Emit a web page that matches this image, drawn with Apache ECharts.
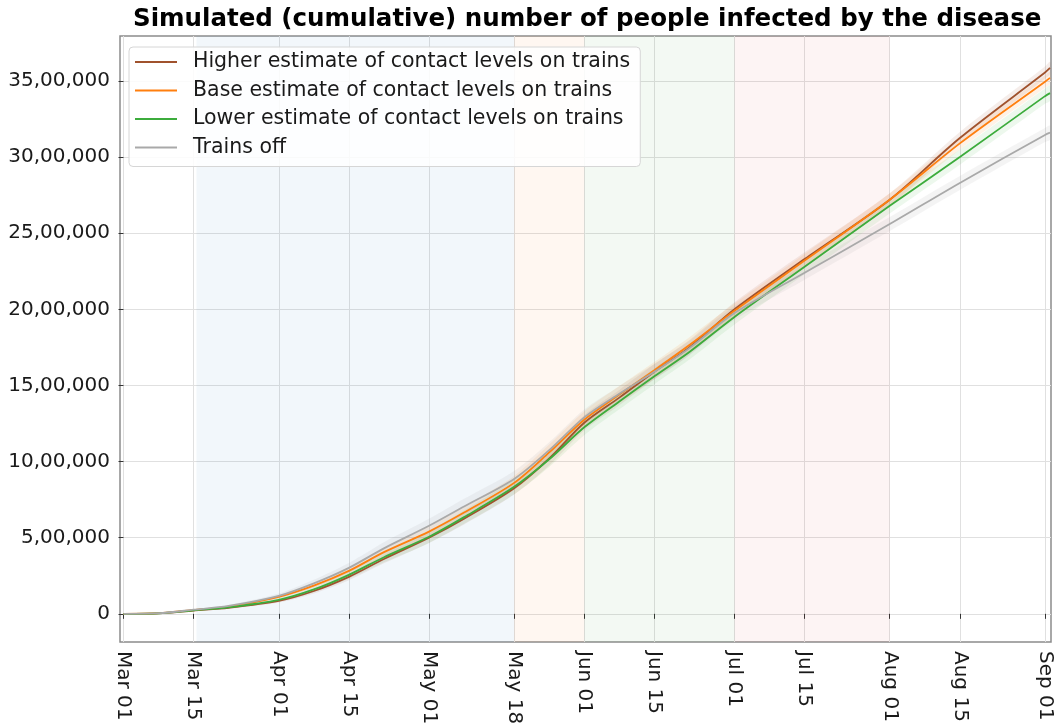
<!DOCTYPE html>
<html>
<head>
<meta charset="utf-8">
<title>Simulated infections</title>
<script src="https://cdn.jsdelivr.net/npm/echarts@6/dist/echarts.min.js"></script>
<style>
  html, body { margin: 0; padding: 0; background: #fff; }
  #chart { width: 1058px; height: 724px; }
</style>
</head>
<body>
<div id="chart"></div>
<script>
// sample dates
var dates = ['2020-03-01', '2020-03-08', '2020-03-15', '2020-03-22', '2020-04-01', '2020-04-08',
             '2020-04-15', '2020-04-22', '2020-05-01', '2020-05-08', '2020-05-18', '2020-05-25',
             '2020-06-01', '2020-06-08', '2020-06-15', '2020-06-22', '2020-07-01', '2020-07-15',
             '2020-08-01', '2020-08-15', '2020-09-01', '2020-09-02'];

// cumulative infected (people)
var higher  = [0, 3000, 22000, 40000, 85000, 150000, 243000, 360000, 500000, 625000, 825000, 1020000,
               1255000, 1420000, 1590000, 1750000, 2000000, 2330000, 2720000, 3125000, 3555000, 3585000];
var base    = [0, 4000, 25000, 48000, 112000, 185000, 282000, 405000, 540000, 665000, 860000, 1060000,
               1275000, 1440000, 1600000, 1765000, 1990000, 2320000, 2720000, 3090000, 3495000, 3520000];
var lower   = [0, 3000, 23000, 43000, 92000, 160000, 256000, 372000, 506000, 635000, 834000, 1015000,
               1225000, 1395000, 1560000, 1720000, 1950000, 2280000, 2680000, 3000000, 3400000, 3420000];
var trainsOff = [0, 4000, 27000, 52000, 118000, 200000, 302000, 430000, 578000, 705000, 886000, 1075000,
               1290000, 1445000, 1590000, 1745000, 1975000, 2240000, 2560000, 2830000, 3145000, 3160000];

// half width of the shaded uncertainty band round each line
var higherSpread    = [0, 1000, 3000, 6000, 10000, 16000, 22000, 28000, 34000, 38000, 42000, 46000,
                       50000, 50000, 50000, 48000, 46000, 44000, 42000, 40000, 40000, 40000];
var baseSpread      = [0, 1000, 3000, 6000, 10000, 16000, 22000, 28000, 34000, 40000, 46000, 52000,
                       56000, 56000, 54000, 52000, 48000, 44000, 42000, 40000, 40000, 40000];
var lowerSpread     = [0, 1000, 3000, 6000, 12000, 18000, 26000, 34000, 40000, 44000, 48000, 50000,
                       52000, 52000, 52000, 50000, 50000, 50000, 50000, 50000, 50000, 50000];
var trainsOffSpread = [0, 1000, 4000, 8000, 16000, 24000, 32000, 40000, 46000, 50000, 52000, 52000,
                       52000, 50000, 50000, 48000, 46000, 46000, 46000, 46000, 46000, 46000];

var seriesNames = ['Higher estimate of contact levels on trains', 'Base estimate of contact levels on trains',
                   'Lower estimate of contact levels on trains', 'Trains off'];

// tick values
var tickDates = ['2020-03-01', '2020-03-15', '2020-04-01', '2020-04-15', '2020-05-01', '2020-05-18',
                 '2020-06-01', '2020-06-15', '2020-07-01', '2020-07-15', '2020-08-01', '2020-08-15', '2020-09-01'];
var yTicks = [0, 500000, 1000000, 1500000, 2000000, 2500000, 3000000, 3500000];

// shaded phases
var phaseStarts = ['2020-03-15 14:00', '2020-05-18', '2020-06-01', '2020-07-01'];
var phaseEnds   = ['2020-05-18', '2020-06-01', '2020-07-01', '2020-08-01'];

var lineColors  = ['#a0522d', '#ff7f0e', '#3cac3c', '#a9a9a9'];
var bandColors  = ['rgba(160,82,45,0.10)', 'rgba(255,127,14,0.10)', 'rgba(60,172,60,0.09)', 'rgba(150,150,150,0.10)'];
var phaseColors = ['rgba(31,119,180,0.06)', 'rgba(255,127,14,0.06)', 'rgba(44,160,44,0.06)', 'rgba(214,39,40,0.05)'];

var months = ['Jan', 'Feb', 'Mar', 'Apr', 'May', 'Jun', 'Jul', 'Aug', 'Sep', 'Oct', 'Nov', 'Dec'];
var DAY = 86400000;
var ORIGIN = '2020-03-01';

// days since Mar 01
function dayOf(s) {
    return Math.round((echarts.time.parse(s).getTime() - echarts.time.parse(ORIGIN).getTime()) / DAY * 100) / 100;
}

function dayLabel(v) {
    var d = new Date(echarts.time.parse(ORIGIN).getTime() + Math.round(v) * DAY);
    var dd = d.getDate();
    return months[d.getMonth()] + ' ' + (dd < 10 ? '0' + dd : dd);
}

function indian(n) {
    if (n === 0) return '0';
    var s = String(Math.round(Math.abs(n)));
    var last3 = s.slice(-3), rest = s.slice(0, -3);
    if (rest) rest = rest.replace(/\B(?=(\d{2})+(?!\d))/g, ',') + ',';
    return (n < 0 ? '-' : '') + rest + last3;
}

var chart = echarts.init(document.getElementById('chart'));

var values = [higher, base, lower, trainsOff];
var spreads = [higherSpread, baseSpread, lowerSpread, trainsOffSpread];
var tickDays = tickDates.map(dayOf);
var series = [];

// phase shading
series.push({
    type: 'line', data: [], silent: true,
    markArea: {
        silent: true,
        data: phaseStarts.map(function (s, i) {
            return [{ xAxis: dayOf(s), itemStyle: { color: phaseColors[i] } }, { xAxis: dayOf(phaseEnds[i]) }];
        })
    }
});

// uncertainty bands, one polygon each
values.forEach(function (v, k) {
    series.push({
        type: 'custom', silent: true,
        data: [[0, 0]],
        renderItem: function (params, api) {
            var up = [], dn = [];
            v.forEach(function (y, i) {
                up.push(api.coord([dayOf(dates[i]), y + spreads[k][i]]));
                dn.unshift(api.coord([dayOf(dates[i]), y - spreads[k][i]]));
            });
            return {
                type: 'polygon',
                shape: { points: up.concat(dn), smooth: 0.3 },
                style: { fill: bandColors[k] }
            };
        }
    });
});

// main lines
values.forEach(function (v, k) {
    series.push({
        name: seriesNames[k], type: 'line', smooth: 0.3,
        showSymbol: false, silent: true,
        data: v.map(function (y, i) { return [dayOf(dates[i]), y]; }),
        lineStyle: { color: lineColors[k], width: 1.8 },
        itemStyle: { color: lineColors[k] }
    });
});

var font = 'DejaVu Sans';

var option = {
    animation: false,
    backgroundColor: '#fff',
    title: {
        text: 'Simulated (cumulative) number of people infected by the disease',
        left: 133, top: 7, padding: 0,
        textStyle: { fontFamily: font, fontSize: 24.5, fontWeight: 'bold', color: '#000' }
    },
    legend: {
        data: seriesNames,
        orient: 'vertical',
        left: 129, top: 47,
        icon: 'rect', itemWidth: 42, itemHeight: 2, itemGap: 6.5,
        padding: [4, 10, 8, 6],
        backgroundColor: 'rgba(255,255,255,0.85)',
        borderColor: '#d6d6d6', borderWidth: 1, borderRadius: 4,
        textStyle: { fontFamily: font, fontSize: 20.5, color: '#1a1a1a', lineHeight: 22, padding: [0, 0, 0, 11] }
    },
    grid: {
        left: 120, right: 7, top: 36, bottom: 82,
        outerBoundsMode: 'none',
        show: true, borderColor: '#8c8c8c', borderWidth: 1.5, backgroundColor: 'transparent'
    },
    xAxis: {
        type: 'value',
        min: -0.7, max: 185.2,
        axisLine: { show: false },
        axisTick: { show: true, length: 5, lineStyle: { color: '#333' }, customValues: tickDays },
        axisLabel: {
            customValues: tickDays,
            rotate: -90, margin: 9, fontFamily: font, fontSize: 20, color: '#1a1a1a',
            formatter: dayLabel
        },
        splitLine: { show: true, lineStyle: { color: '#e0e0e0', width: 1 } }
    },
    yAxis: {
        type: 'value',
        min: -185000, max: 3795000,
        axisLine: { show: false },
        axisTick: { show: true, length: 5, lineStyle: { color: '#333' }, customValues: yTicks },
        axisLabel: {
            customValues: yTicks,
            margin: 10, fontFamily: font, fontSize: 20, color: '#1a1a1a',
            formatter: indian
        },
        splitLine: { show: true, lineStyle: { color: '#e0e0e0', width: 1 } }
    },
    series: series
};

chart.setOption(option);
</script>
</body>
</html>
